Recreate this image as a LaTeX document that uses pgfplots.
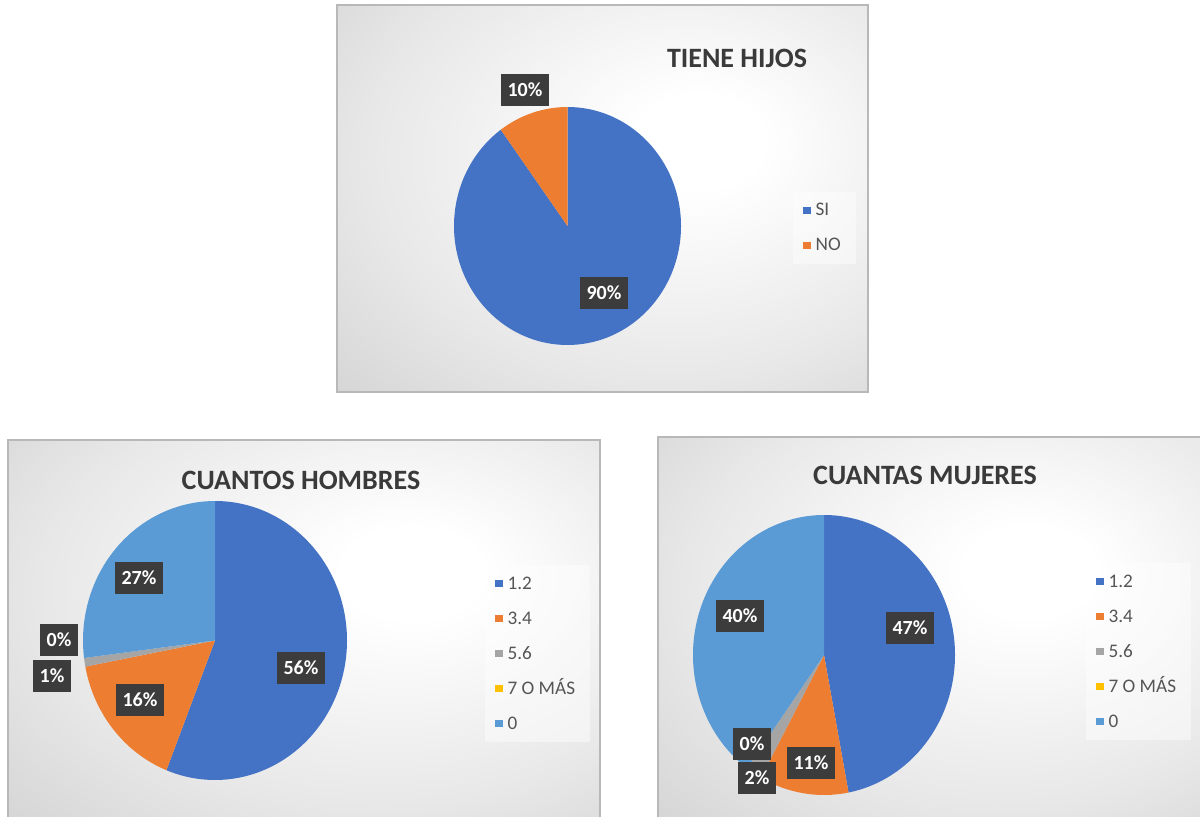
\documentclass[border=0pt]{standalone}
\usepackage{pgfplots}
\pgfplotsset{compat=1.18}
\usepackage{pgfplotstable}
\usepackage{fontspec}
\setmainfont{Carlito}
\definecolor{c1}{HTML}{4472C4}
\definecolor{c2}{HTML}{ED7D31}
\definecolor{c3}{HTML}{A5A5A5}
\definecolor{c4}{HTML}{FFC000}
\definecolor{c5}{HTML}{5B9BD5}
\colorlet{slice0}{c1}
\colorlet{slice1}{c2}
\colorlet{slice2}{c3}
\colorlet{slice3}{c4}
\colorlet{slice4}{c5}
\definecolor{ttl}{HTML}{3A3A3A}
\definecolor{lgd}{HTML}{555555}
\definecolor{lblbg}{HTML}{3C3C3C}
\pgfdeclareradialshading{panelshade}{\pgfpoint{10bp}{8bp}}{color(0bp)=(white); color(6bp)=(white); color(28bp)=(black!9); color(50bp)=(black!21); color(75bp)=(black!27)}

\pgfplotstableread{
val
90
10
}\tHijos
\pgfplotstableread{
val
56
16
1
0
27
}\tHombres
\pgfplotstableread{
val
47
11
2
0
40
}\tMujeres

% \drawpie{table}{cx}{cy}{rx}{ry}  (pixel units of the reference)
\newcommand\drawpie[5]{%
  \pgfplotsextra{%
    \pgfplotstablegetrowsof{#1}%
    \pgfmathtruncatemacro\nrows{\pgfplotsretval-1}%
    \gdef\pcum{0}%
    \foreach \i in {0,...,\nrows}{%
      \pgfplotstablegetelem{\i}{val}\of{#1}%
      \pgfmathsetmacro\pv{\pgfplotsretval}%
      \pgfmathsetmacro\sa{90-3.6*\pcum}%
      \pgfmathsetmacro\ea{90-3.6*(\pcum+\pv)}%
      \ifdim\pv pt>0pt
        \fill[color=slice\i] (axis cs:#2,#3) -- (axis cs:{#2+#4*cos(\sa)},{#3+#5*sin(\sa)})
          arc[start angle=\sa, end angle=\ea, x radius=#4*0.5pt, y radius=#5*0.5pt] -- cycle;
      \fi
      \pgfmathsetmacro\newcum{\pcum+\pv}%
      \global\let\pcum\newcum
    }%
  }%
}

\pgfplotsset{
  panel/.style={at={(0,0)}, anchor=south west, scale only axis, width=600pt, height=408pt,
    xmin=0, xmax=1200, ymin=0, ymax=816, hide axis, clip=false,
    legend image code/.code={\fill[##1, draw=none, fill opacity=1] (0pt,-1.8pt) rectangle (3.6pt,1.8pt);},
    legend cell align=left,
    legend style={draw=none, fill=white, fill opacity=0.45, text opacity=1,
      font=\fontsize{9.6}{11}\selectfont, text=lgd,
      nodes={inner xsep=2.5pt, inner ysep=0pt, text height=6.8pt, text depth=1.5pt},
      row sep=9.2pt, inner xsep=5pt, inner ysep=5pt, anchor=north west},
  },
}
\tikzset{
  lbl/.style={fill=lblbg, text=white, font=\bfseries\fontsize{10}{12}\selectfont,
    inner xsep=3.5pt, inner ysep=0pt, minimum height=16pt},
  ttlsty/.style={font=\bfseries\fontsize{14}{16}\selectfont, text=ttl},
}

\begin{document}
\begin{tikzpicture}
\path[use as bounding box] (0,0) rectangle (600pt,408pt);
\begin{scope}[x=0.5pt,y=0.5pt]
  \shade[shading=panelshade] (337,424) rectangle (868,811);
  \draw[black!28, line width=0.6pt] (337,424) rectangle (868,811);
  \shade[shading=panelshade] (8,-2) rectangle (600,376);
  \draw[black!28, line width=0.6pt] (8,-2) rectangle (600,376);
  \shade[shading=panelshade] (658,-2) rectangle (1202,379);
  \draw[black!28, line width=0.6pt] (658,-2) rectangle (1202,379);
\end{scope}

% ---- TIENE HIJOS ----
\begin{axis}[panel, legend style={at={(axis cs:793,624)}}]
  \addlegendimage{fill=c1}\addlegendentry{SI}
  \addlegendimage{fill=c2}\addlegendentry{NO}
  \drawpie{\tHijos}{567.5}{590}{113.5}{119}
  \node[ttlsty] at (axis cs:737,758) {TIENE HIJOS};
  \node[lbl] at (axis cs:525,726) {10\%};
  \node[lbl] at (axis cs:604,523) {90\%};
\end{axis}

% ---- CUANTOS HOMBRES ----
\begin{axis}[panel, legend style={at={(axis cs:485,251)}}]
  \addlegendimage{fill=c1}\addlegendentry{1.2}
  \addlegendimage{fill=c2}\addlegendentry{3.4}
  \addlegendimage{fill=c3}\addlegendentry{5.6}
  \addlegendimage{fill=c4}\addlegendentry{7 O MÁS}
  \addlegendimage{fill=c5}\addlegendentry{0}
  \drawpie{\tHombres}{215}{175.5}{132}{139.5}
  \node[ttlsty] at (axis cs:301,336) {CUANTOS HOMBRES};
  \node[lbl] at (axis cs:139,238) {27\%};
  \node[lbl] at (axis cs:59,176) {0\%};
  \node[lbl] at (axis cs:52,140) {1\%};
  \node[lbl] at (axis cs:140,116) {16\%};
  \node[lbl] at (axis cs:301,148) {56\%};
\end{axis}

% ---- CUANTAS MUJERES ----
\begin{axis}[panel, legend style={at={(axis cs:1086,253)}}]
  \addlegendimage{fill=c1}\addlegendentry{1.2}
  \addlegendimage{fill=c2}\addlegendentry{3.4}
  \addlegendimage{fill=c3}\addlegendentry{5.6}
  \addlegendimage{fill=c4}\addlegendentry{7 O MÁS}
  \addlegendimage{fill=c5}\addlegendentry{0}
  \drawpie{\tMujeres}{824}{161}{131}{140}
  \node[ttlsty] at (axis cs:925,341) {CUANTAS MUJERES};
  \node[lbl] at (axis cs:740,200) {40\%};
  \node[lbl] at (axis cs:910,188) {47\%};
  \node[lbl] at (axis cs:752,72) {0\%};
  \node[lbl] at (axis cs:757,38) {2\%};
  \node[lbl] at (axis cs:811,53) {11\%};
\end{axis}
\end{tikzpicture}
\end{document}
